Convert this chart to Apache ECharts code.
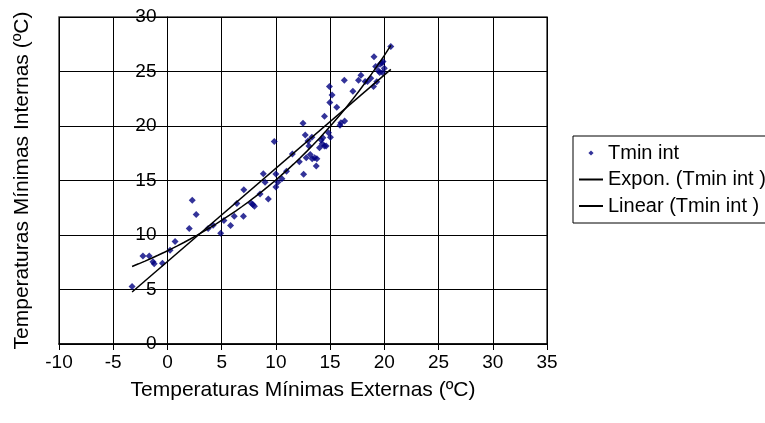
<!DOCTYPE html>
<html>
<head>
<meta charset="utf-8">
<script src="https://cdn.jsdelivr.net/npm/echarts@6/dist/echarts.min.js"></script>
<style>
  html, body { margin: 0; padding: 0; background: #fff; }
  #chart { width: 765px; height: 423px; }
</style>
</head>
<body>
<div id="chart"></div>
<script>
// outside minimum temperature (x) and inside minimum temperature (y)
var tempExt = [-3.26, -2.26, -1.68, -1.34, -1.22, -0.46, 0.24, 0.70, 2.01, 2.29,
  2.65, 3.75, 4.21, 4.91, 5.21, 5.82, 6.16, 6.40, 7.04, 7.01,
  7.71, 7.87, 8.02, 8.54, 8.84, 9.00, 9.30, 9.85, 10.00, 10.00,
  10.18, 10.55, 10.98, 11.52, 12.16, 12.50, 12.56, 12.71, 12.80, 12.96,
  13.05, 13.17, 13.32, 13.35, 13.57, 13.72, 13.78, 14.02, 14.18, 14.27,
  14.33, 14.48, 14.48, 14.63, 14.85, 14.94, 14.97, 15.03, 15.18, 15.61,
  15.91, 16.00, 16.34, 16.31, 17.10, 17.62, 17.84, 18.23, 18.45, 18.75,
  19.00, 19.05, 19.30, 19.20, 19.45, 19.60, 19.76, 19.57, 19.82, 19.88,
  20.00, 20.60];
var tempInt = [5.27, 8.07, 8.07, 7.55, 7.37, 7.40, 8.59, 9.41, 10.60, 13.18,
  11.87, 10.60, 10.90, 10.17, 11.33, 10.87, 11.72, 12.88, 14.16, 11.72,
  12.94, 12.79, 12.64, 13.76, 15.62, 14.83, 13.30, 18.57, 15.59, 14.40,
  14.83, 15.16, 15.86, 17.42, 16.72, 20.25, 15.58, 19.17, 17.09, 18.62,
  18.16, 17.39, 18.96, 17.00, 17.09, 16.32, 17.00, 18.00, 18.71, 18.37,
  18.93, 20.89, 18.16, 18.16, 19.39, 23.62, 22.15, 18.96, 22.85, 21.72,
  20.06, 20.30, 20.46, 24.20, 23.19, 24.20, 24.66, 24.08, 24.08, 24.39,
  23.62, 26.35, 24.05, 25.46, 25.06, 25.67, 25.77, 24.91, 24.91, 25.92,
  25.30, 27.30];

var seriesNames = ['Tmin int', 'Expon. (Tmin int )', 'Linear (Tmin int )'];

var xMin = -10, xMax = 35;
var yMin = 0, yMax = 30;

// least squares trend lines, the same way the spreadsheet makes them
function fitLinear(xs, ys) {
  var n = xs.length, sx = 0, sy = 0, sxx = 0, sxy = 0;
  for (var i = 0; i < n; i++) {
    sx += xs[i]; sy += ys[i]; sxx += xs[i] * xs[i]; sxy += xs[i] * ys[i];
  }
  var b = (n * sxy - sx * sy) / (n * sxx - sx * sx);
  return { a: (sy - b * sx) / n, b: b };
}
var lin = fitLinear(tempExt, tempInt);
var expFit = fitLinear(tempExt, tempInt.map(function (v) { return Math.log(v); }));

var xLo = Math.min.apply(null, tempExt);
var xHi = Math.max.apply(null, tempExt);

var scatterData = tempExt.map(function (x, i) { return [x, tempInt[i]]; });
var linData = [[xLo, lin.a + lin.b * xLo], [xHi, lin.a + lin.b * xHi]];
var expData = [];
for (var k = 0; k <= 40; k++) {
  var x = xLo + (xHi - xLo) * k / 40;
  expData.push([x, Math.exp(expFit.a + expFit.b * x)]);
}

var W = 765;
var gridLeft = 59, gridRight = 218;
var plotW = W - gridLeft - gridRight;
// the value axis crosses the other axis at x = 0
var yAxisShift = -(0 - xMin) / (xMax - xMin) * plotW;

// small diamond in a wide box, so the legend does not stretch it
var legendDiamond = 'path://M0,0M24,6M12,0.5L14.6,3L12,5.5L9.4,3Z';

var font = 'Liberation Sans, Arial, sans-serif';
var chart = echarts.init(document.getElementById('chart'));
var option = {
  animation: false,
  backgroundColor: '#fff',
  textStyle: { fontFamily: font },
  grid: {
    left: gridLeft, right: gridRight, top: 17, bottom: 79,
    outerBoundsMode: 'none',
    containLabel: false,
    show: true, borderColor: '#404040', borderWidth: 1.5
  },
  legend: {
    orient: 'vertical',
    left: 573, top: 136,
    padding: [7, 40, 7, 5],
    borderColor: '#000', borderWidth: 1,
    backgroundColor: '#fff',
    itemWidth: 24, itemHeight: 6, itemGap: 6.5,
    textStyle: { fontSize: 20, lineHeight: 20, color: '#000', fontFamily: font },
    data: [
      { name: seriesNames[0], icon: legendDiamond },
      { name: seriesNames[1], itemStyle: { opacity: 0 } },
      { name: seriesNames[2], itemStyle: { opacity: 0 } }
    ]
  },
  xAxis: {
    type: 'value',
    min: xMin, max: xMax, interval: 5,
    name: 'Temperaturas Mínimas Externas (ºC)',
    nameLocation: 'middle', nameGap: 36,
    nameTextStyle: { fontSize: 21, color: '#000', fontFamily: font },
    axisLine: { show: true, onZero: false, lineStyle: { color: '#000', width: 1.5 } },
    axisTick: { show: true, length: 6, lineStyle: { color: '#000' } },
    axisLabel: { fontSize: 19, color: '#000', margin: 9, fontFamily: font },
    splitLine: { show: true, lineStyle: { color: '#000', width: 1 } }
  },
  yAxis: {
    type: 'value',
    min: yMin, max: yMax, interval: 5,
    offset: yAxisShift,
    name: 'Temperaturas Mínimas Internas (ºC)',
    nameLocation: 'middle', nameGap: 135, nameRotate: 90,
    nameTextStyle: { fontSize: 21, color: '#000', fontFamily: font },
    axisLine: { show: true, onZero: false, lineStyle: { color: '#000', width: 1 } },
    axisTick: { show: true, length: 7, lineStyle: { color: '#000' } },
    axisLabel: { fontSize: 19, color: '#000', margin: 11, fontFamily: font },
    splitLine: { show: true, lineStyle: { color: '#000', width: 1 } }
  },
  series: [
    {
      name: seriesNames[0],
      type: 'scatter',
      symbol: 'diamond',
      symbolSize: 7,
      itemStyle: { color: '#000080' },
      data: scatterData,
      z: 2
    },
    {
      name: seriesNames[1],
      type: 'line',
      symbol: 'none',
      lineStyle: { color: '#000', width: 1.5 },
      itemStyle: { color: '#000' },
      data: expData,
      z: 3
    },
    {
      name: seriesNames[2],
      type: 'line',
      symbol: 'none',
      lineStyle: { color: '#000', width: 1.5 },
      itemStyle: { color: '#000' },
      data: linData,
      z: 3
    }
  ]
};
chart.setOption(option);
</script>
</body>
</html>
